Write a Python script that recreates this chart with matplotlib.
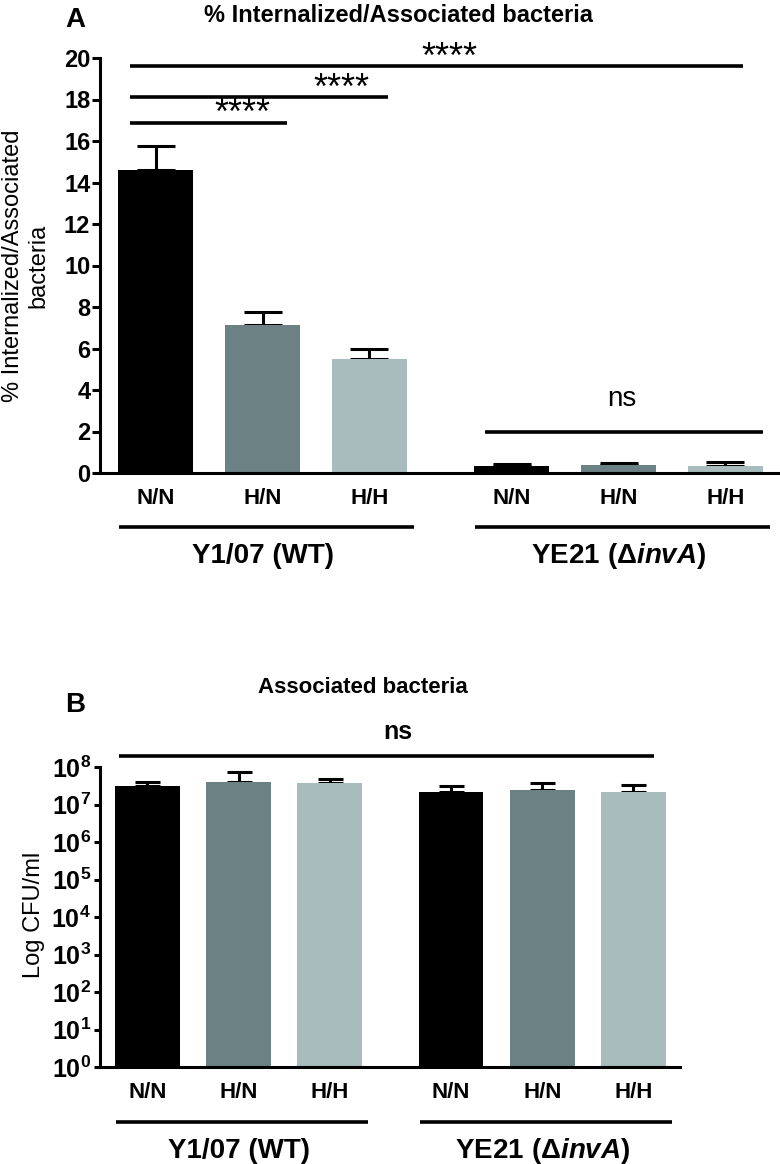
import numpy as np
import matplotlib
matplotlib.use("Agg")
import matplotlib.pyplot as plt

plt.rcParams['font.family'] = ['Liberation Sans', 'DejaVu Sans']
plt.rcParams['mathtext.fontset'] = 'custom'
plt.rcParams['mathtext.rm'] = 'Liberation Sans:bold'
plt.rcParams['mathtext.bf'] = 'Liberation Sans:bold'
plt.rcParams['mathtext.it'] = 'Liberation Sans:italic:bold'

# data
conditions = ["N/N", "H/N", "H/H", "N/N", "H/N", "H/H"]
strains = ["Y1/07 (WT)", r"$\mathbf{YE21\ (\Delta}\mathit{invA})$"]
bar_colors = ["#000000", "#6b8183", "#a8bcbd"] * 2

pct_internalized = [14.6, 7.15, 5.5, 0.33, 0.37, 0.33]
pct_upper = [15.75, 7.75, 6.0, 0.44, 0.48, 0.53]

cfu_associated = [3.1e7, 4.0e7, 3.7e7, 2.1e7, 2.4e7, 2.2e7]
cfu_upper = [4.1e7, 7.4e7, 4.8e7, 3.1e7, 3.7e7, 3.3e7]

yticks_a = [0, 2, 4, 6, 8, 10, 12, 14, 16, 18, 20]
yticks_b = [1e0, 1e1, 1e2, 1e3, 1e4, 1e5, 1e6, 1e7, 1e8]
ytick_labels_b = [r"$\mathbf{10^{%d}}$" % i for i in range(9)]

# significance brackets in panel A: (from, to, height, text, text x)
sig_a = [(-0.24, 1.23, 16.87, "****", 0.81),
         (-0.24, 2.17, 18.1, "****", 1.74),
         (-0.24, 5.49, 19.6, "****", 2.75)]
ns_a = (3.08, 5.68, 2.0, "ns", 4.36)
ns_b = (-0.31, 5.55, "ns", 2.75)

pos = np.array([0, 1, 2, 3.33, 4.33, 5.33])

W, H = 780, 1164
fig = plt.figure(figsize=(W / 100, H / 100), dpi=100)


def ax_rect(left, top, right, bottom):
    return [left / W, 1 - bottom / H, (right - left) / W, (bottom - top) / H]


def style_axes(ax):
    for s in ["top", "right"]:
        ax.spines[s].set_visible(False)
    for s in ["left", "bottom"]:
        ax.spines[s].set_linewidth(2.2)
    ax.tick_params(axis="y", width=2.2, length=5.5, pad=1.5)
    ax.tick_params(axis="x", length=0, pad=11)
    ax.set_xticks(pos, conditions, fontsize=16, fontweight="bold")


def group_lines(ax, y_line, y_text):
    tr = ax.get_xaxis_transform()
    spans = [(pos[0] - 0.34, pos[2] + 0.42), (pos[3] - 0.34, pos[5] + 0.42)]
    for (a, b), name in zip(spans, strains):
        ax.plot([a, b], [y_line, y_line], color="black", lw=2.6,
                transform=tr, clip_on=False, solid_capstyle="butt")
        ax.text((a + b) / 2 - 0.04, y_text, name, transform=tr, ha="center",
                va="baseline", fontsize=20, fontweight="bold")


# ---- panel A
axA = fig.add_axes(ax_rect(100, 58, 780, 473))
err = np.array(pct_upper) - np.array(pct_internalized)
axA.bar(pos, pct_internalized, width=0.70, color=bar_colors, zorder=2)
axA.errorbar(pos, pct_internalized, yerr=[np.zeros(6), err], fmt="none",
             ecolor="black", elinewidth=2.2, capsize=14, capthick=2.2, zorder=1)
axA.set_ylim(0, 20)
axA.set_xlim(-0.52, 5.84)
axA.set_yticks(yticks_a, [str(t) for t in yticks_a], fontsize=17, fontweight="bold")
style_axes(axA)

for x0, x1, y, txt, tx in sig_a:
    axA.plot([x0, x1], [y, y], color="black", lw=2.6, clip_on=False,
             solid_capstyle="butt")
    axA.annotate(txt, (tx, y), xytext=(0, -1), textcoords="offset points",
                 ha="center", va="baseline", fontsize=26,
                 annotation_clip=False)
x0, x1, y, txt, tx = ns_a
axA.plot([x0, x1], [y, y], color="black", lw=2.6, solid_capstyle="butt")
axA.annotate(txt, (tx, y), xytext=(0, 18), textcoords="offset points",
             ha="center", va="baseline", fontsize=20)

group_lines(axA, (473 - 527) / 415, (473 - 563) / 415)

fig.text(26 / W, 1 - 266 / H, "% Internalized/Associated\nbacteria",
         rotation=90, ha="center", va="center", fontsize=17,
         multialignment="center", linespacing=1.2)
fig.text(65 / W, 1 - 27 / H, "A", fontsize=20, fontweight="bold",
         ha="left", va="baseline")
fig.text(398 / W, 1 - 22 / H, "% Internalized/Associated bacteria",
         fontsize=17, fontweight="bold", ha="center", va="baseline")

# ---- panel B
axB = fig.add_axes(ax_rect(100, 767, 680, 1067))
axB.set_yscale("log")
errb = np.array(cfu_upper) - np.array(cfu_associated)
axB.bar(pos, np.array(cfu_associated) - 1, bottom=1, width=0.71,
        color=bar_colors, zorder=2)
axB.errorbar(pos, cfu_associated, yerr=[np.zeros(6), errb], fmt="none",
             ecolor="black", elinewidth=2.2, capsize=9, capthick=2.2, zorder=1)
axB.set_ylim(1, 1e8)
axB.set_xlim(-0.52, 5.84)
axB.set_yticks(yticks_b, ytick_labels_b, fontsize=18)
axB.yaxis.set_minor_locator(matplotlib.ticker.NullLocator())
style_axes(axB)
axB.tick_params(axis="y", length=4.5, pad=2)

x0, x1, txt, tx = ns_b
yb = 10 ** (8 + 11 / 37.5)
axB.plot([x0, x1], [yb, yb], color="black", lw=2.6, clip_on=False,
         solid_capstyle="butt")
axB.annotate(txt, (tx, yb), xytext=(0, 12), textcoords="offset points",
             ha="center", va="baseline", fontsize=18, fontweight="bold",
             annotation_clip=False)

group_lines(axB, (1067 - 1122) / 300, (1067 - 1158) / 300)

fig.text(34 / W, 1 - 915 / H, "Log CFU/ml", rotation=90, ha="center",
         va="center", fontsize=17)
fig.text(65 / W, 1 - 712 / H, "B", fontsize=20, fontweight="bold",
         ha="left", va="baseline")
fig.text(258 / W, 1 - 693 / H, "Associated bacteria", fontsize=16,
         fontweight="bold", ha="left", va="baseline")

fig.savefig("out.png", dpi=100)
